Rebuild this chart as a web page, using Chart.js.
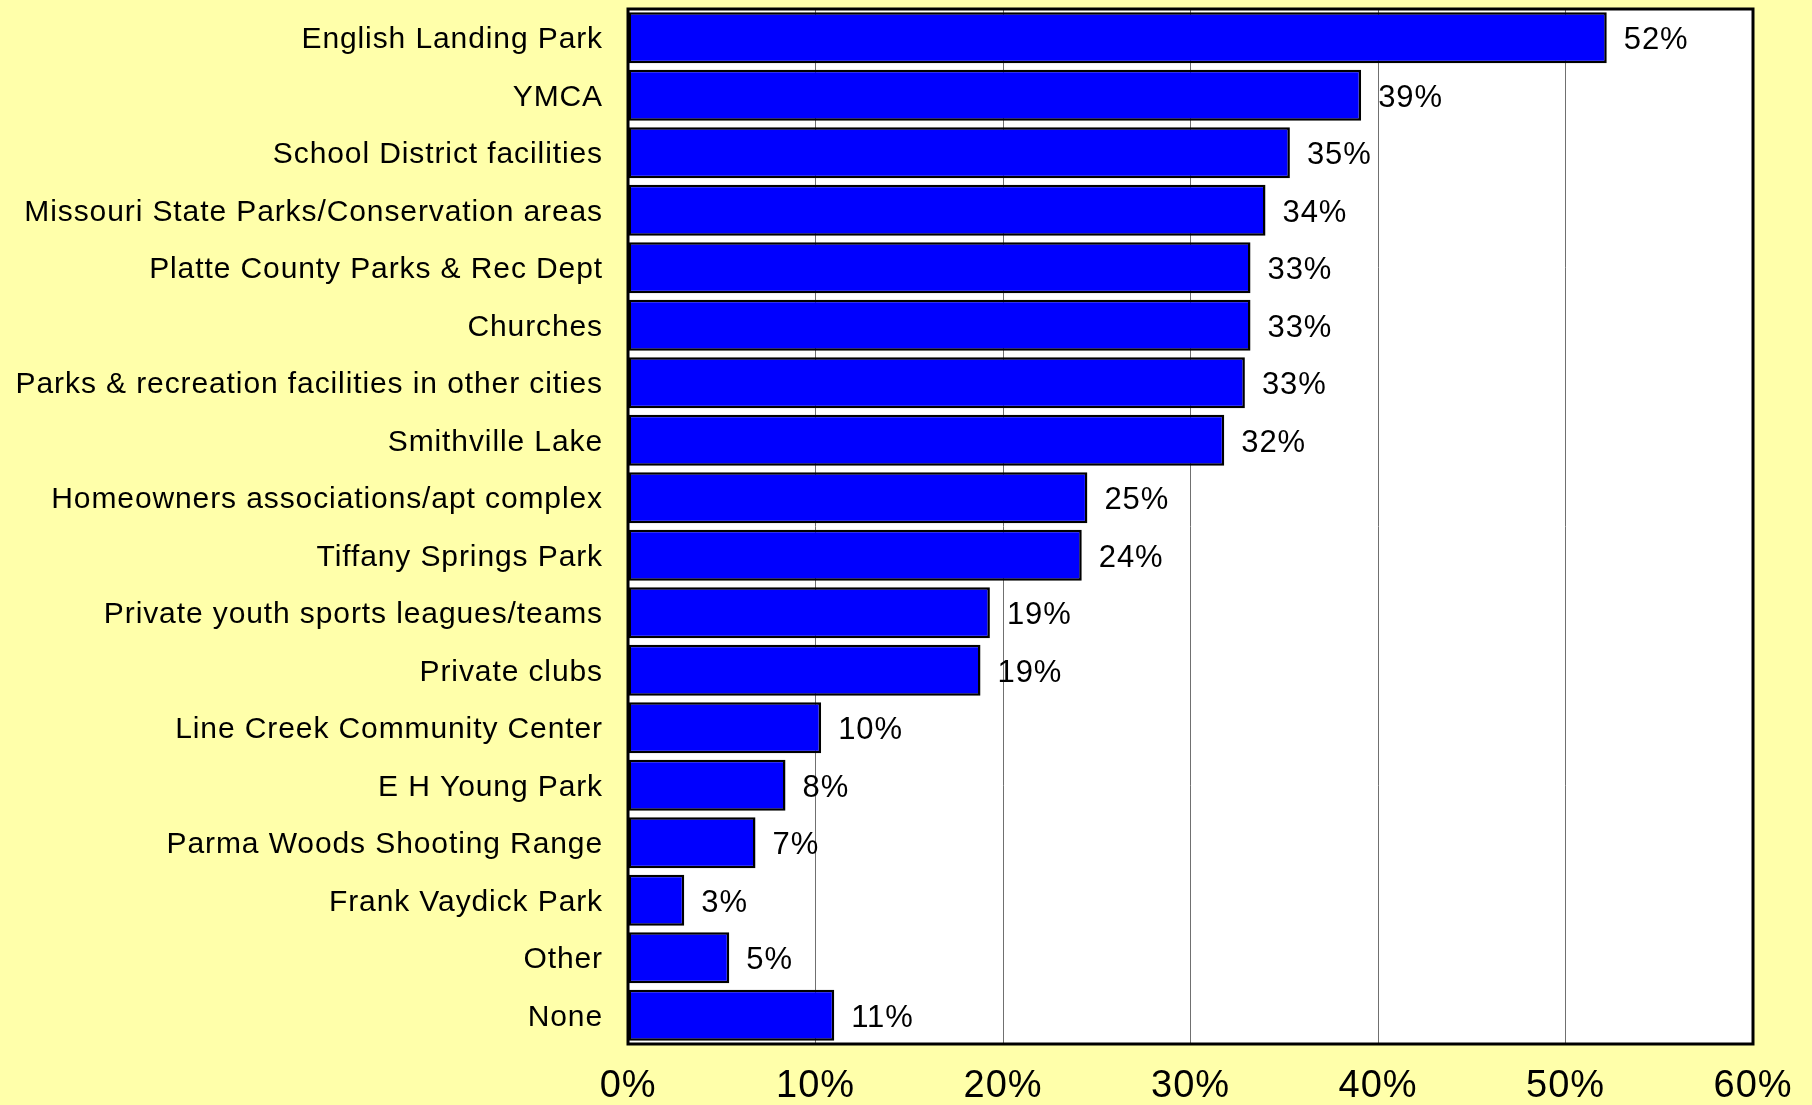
<!DOCTYPE html>
<html>
<head>
<meta charset="utf-8">
<script src="https://cdn.jsdelivr.net/npm/chart.js@4.4.1/dist/chart.umd.min.js"></script>
<style>
  html, body { margin: 0; padding: 0; background: #ffffaa; }
  canvas { display: block; }
</style>
</head>
<body>
<canvas id="facilityChart" width="1812" height="1105"></canvas>
<script>
const categories = [
  'English Landing Park',
  'YMCA',
  'School District facilities',
  'Missouri State Parks/Conservation areas',
  'Platte County Parks & Rec Dept',
  'Churches',
  'Parks & recreation facilities in other cities',
  'Smithville Lake',
  'Homeowners associations/apt complex',
  'Tiffany Springs Park',
  'Private youth sports leagues/teams',
  'Private clubs',
  'Line Creek Community Center',
  'E H Young Park',
  'Parma Woods Shooting Range',
  'Frank Vaydick Park',
  'Other',
  'None',
];
const percentUsed = [52.2, 39.1, 35.3, 34.0, 33.2, 33.2, 32.9, 31.8, 24.5, 24.2, 19.3, 18.8, 10.3, 8.4, 6.8, 3.0, 5.4, 11.0];
const xTicks = [0, 10, 20, 30, 40, 50, 60];

const FONT = '"Liberation Sans", Arial, Helvetica, sans-serif';

const spacingPlugin = {
  id: 'spacing',
  beforeUpdate(chart) {
    chart.ctx.letterSpacing = '0.9px';
  },
  beforeDraw(chart) {
    chart.ctx.letterSpacing = '0.9px';
  },
};

const plotAreaPlugin = {
  id: 'plotArea',
  beforeDraw(chart) {
    const { ctx, chartArea } = chart;
    ctx.save();
    ctx.fillStyle = '#ffffff';
    ctx.fillRect(chartArea.left, chartArea.top, chartArea.right - chartArea.left, chartArea.bottom - chartArea.top);
    ctx.restore();
  },
  afterDatasetsDraw(chart) {
    const { ctx, chartArea } = chart;
    ctx.save();
    ctx.strokeStyle = '#000000';
    ctx.lineWidth = 3;
    ctx.strokeRect(chartArea.left, chartArea.top, chartArea.right - chartArea.left, chartArea.bottom - chartArea.top);

    // value labels to the right of each bar
    ctx.fillStyle = '#000000';
    ctx.font = `31px ${FONT}`;
    ctx.textAlign = 'left';
    ctx.textBaseline = 'middle';
    const meta = chart.getDatasetMeta(0);
    meta.data.forEach((bar, i) => {
      ctx.fillText(`${Math.round(percentUsed[i])}%`, bar.x + 17, bar.y + 3);
    });
    ctx.restore();
  },
};

new Chart(document.getElementById('facilityChart'), {
  type: 'bar',
  data: {
    labels: categories,
    datasets: [
      {
        data: percentUsed,
        backgroundColor: '#0000ff',
        borderColor: '#000000',
        borderWidth: 2.5,
        borderSkipped: false,
        barPercentage: 0.885,
        categoryPercentage: 1,
      },
    ],
  },
  options: {
    indexAxis: 'y',
    responsive: false,
    animation: false,
    devicePixelRatio: 1,
    layout: { padding: { top: 9, right: 59, left: 0, bottom: 0 } },
    plugins: {
      legend: { display: false },
      tooltip: { enabled: false },
    },
    scales: {
      x: {
        min: 0,
        max: 60,
        afterBuildTicks(scale) {
          scale.ticks = xTicks.map((value) => ({ value }));
        },
        afterFit(scale) {
          scale.height = 61;
          scale.paddingLeft = 0;
          scale.paddingRight = 0;
        },
        border: { display: false },
        grid: { color: '#707070', lineWidth: 1, drawTicks: false },
        ticks: {
          color: '#000000',
          padding: 20,
          maxRotation: 0,
          autoSkip: false,
          font: { family: FONT, size: 38 },
          callback: (value) => `${value}%`,
        },
      },
      y: {
        afterFit(scale) {
          scale.width = 628;
          scale.paddingTop = 0;
          scale.paddingBottom = 0;
        },
        border: { display: false },
        grid: { display: false, drawTicks: false },
        ticks: {
          color: '#000000',
          padding: 25,
          labelOffset: 2,
          autoSkip: false,
          font: { family: FONT, size: 30 },
        },
      },
    },
  },
  plugins: [spacingPlugin, plotAreaPlugin],
});
</script>
</body>
</html>
